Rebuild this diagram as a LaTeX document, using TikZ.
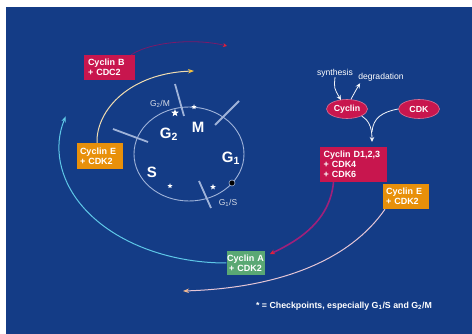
\documentclass[tikz,border=0pt]{standalone}
\usepackage{fontspec}
\setmainfont{Liberation Sans}
\usetikzlibrary{shapes.geometric,arrows.meta,calc}
\definecolor{bgblue}{HTML}{143C86}
\definecolor{crim}{HTML}{C8164E}
\definecolor{orng}{HTML}{E8900A}
\definecolor{grn}{HTML}{5AA874}
\definecolor{cyclecol}{HTML}{9FB3D9}
\definecolor{cyanarc}{HTML}{5EC8E8}
\definecolor{peach}{HTML}{F0DCB0}
\definecolor{peachtip}{HTML}{F2C040}
\definecolor{pinkarc}{HTML}{E6C6D6}
\definecolor{pinktip}{HTML}{F0B890}
\definecolor{purparc}{HTML}{A0207A}
\definecolor{darkpurp}{HTML}{7A1A6A}
\definecolor{redtip}{HTML}{E0203A}
\definecolor{lbl}{HTML}{D8DDE8}
\begin{document}
\begin{tikzpicture}[x=1pt,y=-1pt,
  box/.style={rectangle, inner sep=0pt, text=white, align=left, anchor=center,
    font=\fontsize{9}{10}\selectfont\bfseries},
  big/.style={text=white, inner sep=0pt, font=\fontsize{15}{15}\selectfont\bfseries},
  small/.style={text=lbl, inner sep=0pt, font=\fontsize{8.5}{9}\selectfont},
  tick/.style={draw=cyclecol, line width=1.8pt},
  starmark/.style={star, star points=5, star point ratio=2.4, fill=white, inner sep=0pt},
  oval/.style={ellipse, fill=crim, draw=crim!60!white, line width=0.6pt, text=white,
    minimum width=41pt, minimum height=19pt, inner sep=0pt, font=\fontsize{8.8}{9}\selectfont\bfseries},
  tip/.style={-{Stealth[length=5pt,width=4.5pt]}}
]
\fill[white] (0,0) rectangle (472,334);
\fill[bgblue] (6,7) rectangle (472,334);
\useasboundingbox (0,0) rectangle (472,334);

% inner cycle
\draw[cyclecol, line width=0.9pt] (189,154) ellipse[x radius=55pt, y radius=47pt];
\coordinate (t1a) at (175,84);  \coordinate (t1b) at (184,116);
\coordinate (t2a) at (239,101); \coordinate (t2b) at (215,125);
\coordinate (t3a) at (113,129); \coordinate (t3b) at (148,142);
\coordinate (t4a) at (199,181); \coordinate (t4b) at (211,208);
\draw[tick] (t1a) -- (t1b);
\draw[tick] (t2a) -- (t2b);
\draw[tick] (t3a) -- (t3b);
\draw[tick] (t4a) -- (t4b);
\node[circle, fill=black, draw=cyclecol, line width=0.6pt, minimum size=6pt, inner sep=0pt] (dot) at (232,183) {};

\node[big] (lM) at (198,127) {M};
\node[big] (lG2) at (169,134) {G\textsubscript{2}};
\node[big] (lG1) at (231,158) {G\textsubscript{1}};
\node[big] (lS) at (152,172) {S};
\node[small] (lG2M) at (160,104) {G\textsubscript{2}/M};
\node[small] (lG1S) at (228,203) {G\textsubscript{1}/S};

\node[starmark, minimum size=8pt] (s1) at (175,113) {};
\node[starmark, minimum size=5.5pt] (s2) at (194,107) {};
\node[starmark, minimum size=5.5pt] (s3) at (170,186) {};
\node[starmark, minimum size=6pt] (s4) at (213,187) {};

% boxes
\node[box, fill=crim, minimum width=51pt, minimum height=25pt, text width=43pt] (cycB) at (109.5,67.5) {Cyclin B\\+ CDC2};
\node[box, fill=orng, minimum width=46pt, minimum height=26pt, text width=40pt] (cycEl) at (100,156) {Cyclin E\\+ CDK2};
\node[box, fill=crim, minimum width=67pt, minimum height=35pt, text width=60pt] (cycD) at (353.5,164.5) {Cyclin D1,2,3\\+ CDK4\\+ CDK6};
\node[box, fill=orng, minimum width=46pt, minimum height=25pt, text width=40pt] (cycEr) at (406,196.5) {Cyclin E\\+ CDK2};
\node[box, fill=grn, minimum width=38pt, minimum height=24pt, align=center, text width=38pt] (cycA) at (245.5,263) {Cyclin A\\+ CDK2};

% cyclin / cdk
\node[oval] (cyc) at (347,109) {Cyclin};
\node[oval] (cdk) at (419,109) {CDK};
\node[text=white, inner sep=0pt, font=\fontsize{8.6}{9}\selectfont] (syn) at (335,73) {synthesis};
\node[text=white, inner sep=0pt, font=\fontsize{8.6}{9}\selectfont] (deg) at (381,77) {degradation};
\draw[white!85!cyclecol, line width=0.8pt, tip] (syn.south) .. controls (334,88) .. ($(cyc.north)+(-6,1)$);
\draw[white!85!cyclecol, line width=0.8pt, tip] ($(cyc.north)+(4,0)$) .. controls (356,90) .. ($(deg.south west)+(2,2)$);
\coordinate (mg) at (372,142);
\draw[white!85!cyclecol, line width=0.8pt] (cdk.west) .. controls (382,112) and (373,118) .. (372,132);
\draw[white!85!cyclecol, line width=0.8pt, tip] (cyc.south east) .. controls (368,120) and (372,126) .. (mg);

% outer arcs
\coordinate (endB) at (227,46);
\draw[darkpurp, line width=0.8pt, -{Stealth[length=4pt,width=4pt,fill=redtip,color=redtip]}] ($(cycB.north east)+(-4,0)$) .. controls (150,42) and (195,38) .. (endB);
\coordinate (endEl) at (194,71);
\draw[peach, line width=1pt, -{Stealth[length=6pt,width=4.5pt,fill=peachtip,color=peachtip]}] ($(cycEl.north)+(-3,0)$) .. controls (96,110) and (130,73) .. (endEl);
\draw[cyanarc, line width=1pt, -{Stealth[length=6pt,width=4.5pt]}] (cycA.west) arc[start angle=-90, end angle=-196, x radius=167pt, y radius=115pt];
\coordinate (endD) at (270,254);
\draw[purparc, line width=1.6pt, -{Stealth[length=5pt,width=5pt,fill=redtip,color=redtip]}] ($(cycD.south)+(-20,0)$) .. controls (330,220) and (300,240) .. (endD);
\coordinate (endEr) at (183,291);
\draw[pinkarc, line width=1pt, -{Stealth[length=6pt,width=4.5pt,fill=pinktip,color=pinktip]}] ($(cycEr.south)+(-21,0)$) .. controls (350,260) and (280,288) .. (endEr);

\node[text=white, inner sep=0pt, font=\fontsize{8.8}{9}\selectfont\bfseries] (foot) at (344,306) {* = Checkpoints, especially G\textsubscript{1}/S and G\textsubscript{2}/M};
\end{tikzpicture}
\end{document}
